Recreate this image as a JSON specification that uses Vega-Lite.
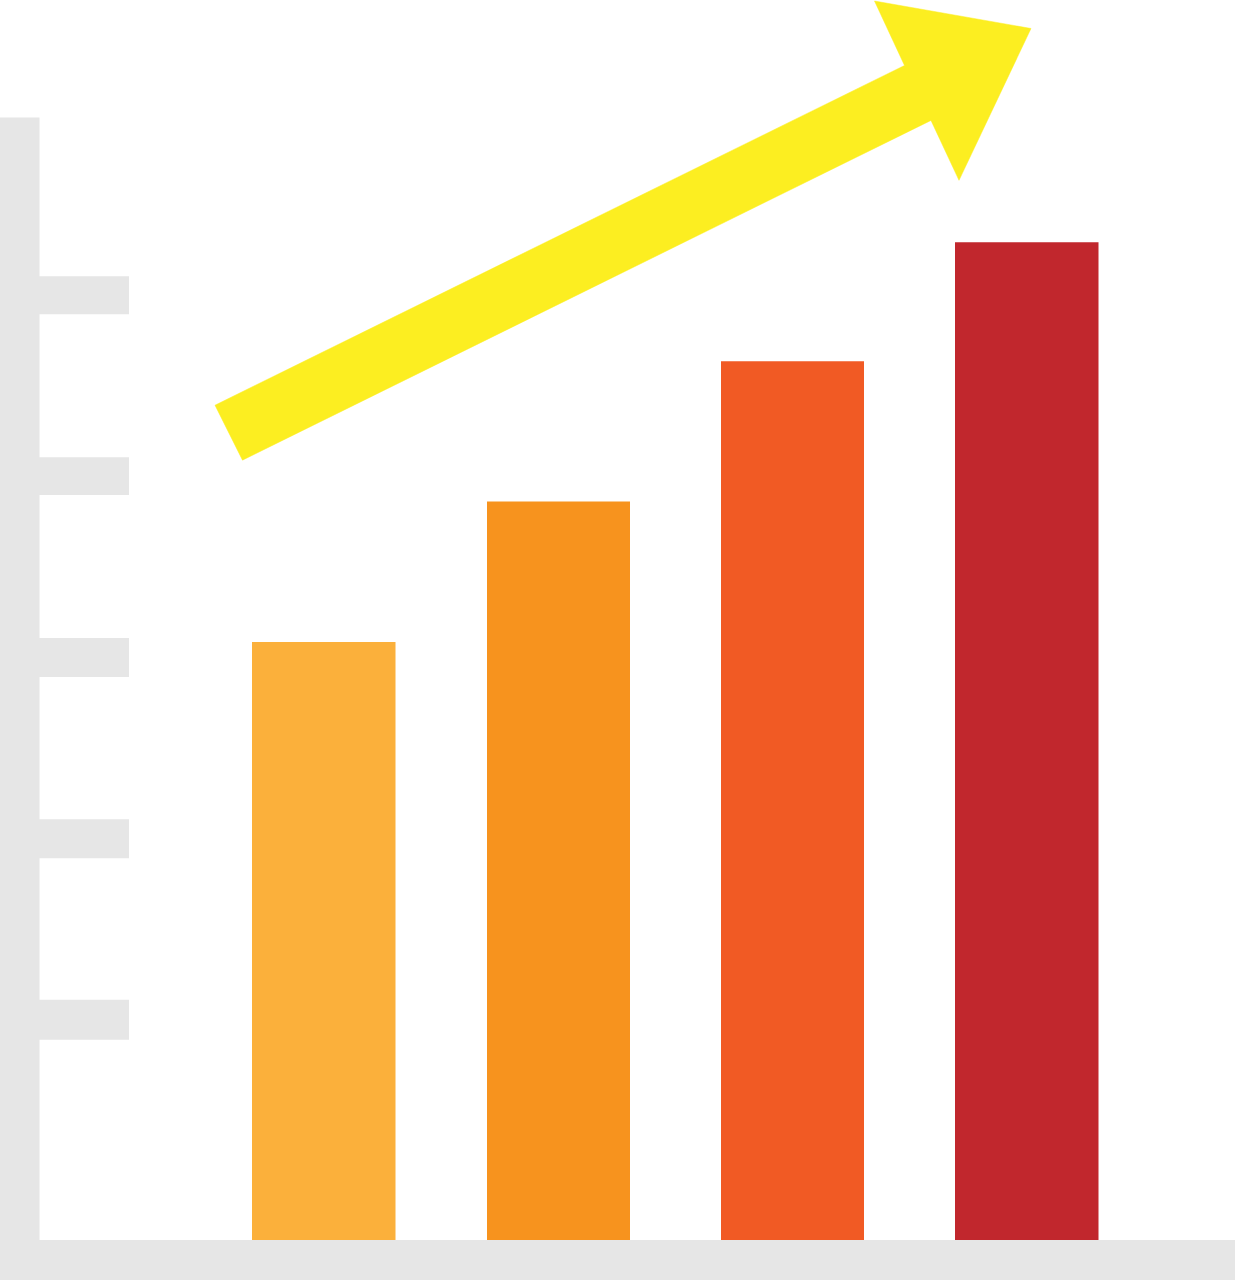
{
  "$schema": "https://vega.github.io/schema/vega-lite/v6.json",
  "width": 1235,
  "height": 1280,
  "autosize": {"type": "fit", "contains": "padding"},
  "padding": 0,
  "background": "#ffffff",
  "config": {"view": {"stroke": "transparent"}},
  "datasets": {
    "frame": [
      {"part": "y axis", "x0": 0, "x1": 39.5, "y0": -40, "y1": 1123.5},
      {"part": "x axis", "x0": 0, "x1": 1235, "y0": -40, "y1": 0},
      {"part": "tick 1", "x0": 39, "x1": 129, "y0": 200.5, "y1": 240.5},
      {"part": "tick 2", "x0": 39, "x1": 129, "y0": 382, "y1": 421},
      {"part": "tick 3", "x0": 39, "x1": 129, "y0": 563.5, "y1": 602.5},
      {"part": "tick 4", "x0": 39, "x1": 129, "y0": 745.5, "y1": 783.5},
      {"part": "tick 5", "x0": 39, "x1": 129, "y0": 926.5, "y1": 964.5}
    ],
    "bars": [
      {"bar": "A", "x0": 252, "x1": 395.5, "base": 0, "value": 598.5},
      {"bar": "B", "x0": 487, "x1": 630, "base": 0, "value": 739},
      {"bar": "C", "x0": 721, "x1": 864, "base": 0, "value": 879.5},
      {"bar": "D", "x0": 955, "x1": 1098.5, "base": 0, "value": 998.5}
    ],
    "arrow": [
      {"step": 1, "x": 215, "y": 835.5},
      {"step": 2, "x": 904.5, "y": 1175.5},
      {"step": 3, "x": 874.5, "y": 1240},
      {"step": 4, "x": 1031, "y": 1212.5},
      {"step": 5, "x": 959, "y": 1060.5},
      {"step": 6, "x": 931, "y": 1120.5},
      {"step": 7, "x": 242.5, "y": 780.5}
    ]
  },
  "encoding": {
    "x": {"type": "quantitative", "scale": {"domain": [0, 1235], "nice": false, "zero": false}, "axis": null},
    "y": {"type": "quantitative", "scale": {"domain": [-40, 1240], "nice": false, "zero": false}, "axis": null}
  },
  "layer": [
    {
      "data": {"name": "frame"},
      "mark": {"type": "rect", "fill": "#e6e6e6"},
      "encoding": {
        "x": {"field": "x0"},
        "x2": {"field": "x1"},
        "y": {"field": "y0"},
        "y2": {"field": "y1"}
      }
    },
    {
      "data": {"name": "bars"},
      "mark": {"type": "rect"},
      "encoding": {
        "x": {"field": "x0"},
        "x2": {"field": "x1"},
        "y": {"field": "base"},
        "y2": {"field": "value"},
        "fill": {
          "field": "bar",
          "type": "nominal",
          "scale": {"domain": ["A", "B", "C", "D"], "range": ["#fbb03b", "#f7931e", "#f15a24", "#c1272d"]},
          "legend": null
        }
      }
    },
    {
      "data": {"name": "arrow"},
      "mark": {"type": "line", "interpolate": "linear-closed", "fill": "#fcee21", "stroke": "#fcee21", "strokeWidth": 0.5},
      "encoding": {
        "x": {"field": "x"},
        "y": {"field": "y"},
        "order": {"field": "step", "type": "quantitative"}
      }
    }
  ]
}
